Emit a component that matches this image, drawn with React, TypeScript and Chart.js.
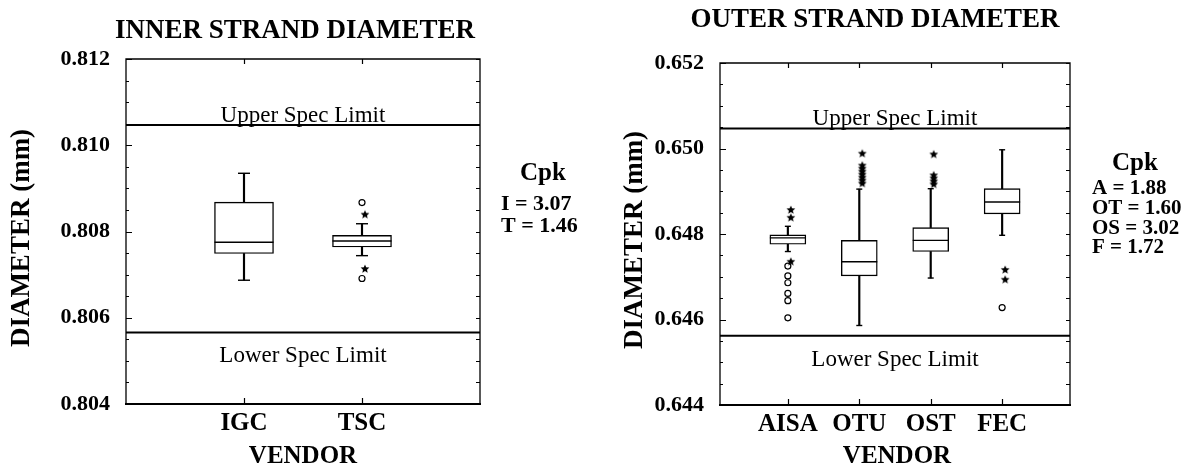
import React, { useEffect, useRef } from 'react';
import { Chart, registerables } from 'chart.js';

Chart.register(...registerables);

const SERIF = "'Liberation Serif', 'Times New Roman', Times, serif";

// ---------- INNER STRAND DIAMETER ----------
const INNER_VENDORS = ['IGC', 'TSC'];
const INNER_LOW = [0.80687, 0.80744];
const INNER_Q1 = [0.80749, 0.80764];
const INNER_MEDIAN = [0.80775, 0.80778];
const INNER_Q3 = [0.80868, 0.80791];
const INNER_HIGH = [0.80935, 0.80818];
const INNER_STARS = [[], [0.80839, 0.80713]];
const INNER_CIRCLES = [[], [0.80867, 0.80691]];
const INNER_USL = 0.81047;
const INNER_LSL = 0.80566;
const INNER_Y_MIN = 0.804;
const INNER_Y_MAX = 0.812;
const INNER_CPK = ['I = 3.07', 'T = 1.46'];

// ---------- OUTER STRAND DIAMETER ----------
const OUTER_VENDORS = ['AISA', 'OTU', 'OST', 'FEC'];
const OUTER_LOW = [0.64759, 0.64586, 0.64697, 0.64797];
const OUTER_Q1 = [0.64776, 0.64702, 0.64759, 0.64847];
const OUTER_MEDIAN = [0.64791, 0.64735, 0.64785, 0.64875];
const OUTER_Q3 = [0.64798, 0.64785, 0.64815, 0.64906];
const OUTER_HIGH = [0.64818, 0.64905, 0.64906, 0.64997];
const OUTER_STARS = [
  [0.64856, 0.64838, 0.64735],
  [0.64988, 0.6496, 0.64953, 0.64946, 0.64939, 0.64932, 0.64925, 0.64918],
  [0.64986, 0.64937, 0.6493, 0.64923, 0.64916],
  [0.64716, 0.64693],
];
const OUTER_CIRCLES = [
  [0.64725, 0.64702, 0.64686, 0.64661, 0.64644, 0.64604],
  [],
  [],
  [0.64628],
];
const OUTER_USL = 0.65047;
const OUTER_LSL = 0.64562;
const OUTER_Y_MIN = 0.644;
const OUTER_Y_MAX = 0.652;
const OUTER_CPK = ['A = 1.88', 'OT = 1.60', 'OS = 3.02', 'F = 1.72'];

const Y_MAJOR_STEP = 0.002;
const Y_MINOR_STEP = 0.0005;

function makeStar(r: number, dx: number): HTMLCanvasElement {
  const c = document.createElement('canvas');
  const size = Math.ceil(2 * (r + Math.abs(dx)) + 2);
  c.width = size;
  c.height = size;
  const g = c.getContext('2d')!;
  const cx = size / 2 + dx;
  const cy = size / 2;
  g.beginPath();
  for (let k = 0; k < 10; k++) {
    const rad = k % 2 === 0 ? r : r * 0.45;
    const a = -Math.PI / 2 + (k * Math.PI) / 5;
    g.lineTo(cx + rad * Math.cos(a), cy + rad * Math.sin(a));
  }
  g.closePath();
  g.fillStyle = '#000';
  g.fill();
  return c;
}

type PanelCfg = {
  left: number;
  width: number;
  title: string;
  titleX: number;
  titleY: number;
  yTitleX: number;
  yTitleY: number;
  vendorX: number;
  vendorY: number;
  cpkX: number;
  cpkTitleX: number;
  cpkTitleY: number;
  cpkLineY: number[];
  cpkFont: number;
  cpkLines: string[];
  vendors: string[];
  low: number[];
  q1: number[];
  median: number[];
  q3: number[];
  high: number[];
  stars: number[][];
  circles: number[][];
  usl: number;
  lsl: number;
  yMin: number;
  yMax: number;
  xMin: number;
  xMax: number;
  yAxisWidth: number;
  xAxisHeight: number;
  padTop: number;
  padRight: number;
  boxWidth: number;
  capR: number;
};

function buildConfig(cfg: PanelCfg): any {
  const xs = cfg.vendors.map((_, i) => i + 1);
  const star = makeStar(4.6, 3);
  const whiskers = xs.flatMap((x, i) => [
    { x, y: [cfg.q3[i], cfg.high[i]] },
    { x, y: [cfg.low[i], cfg.q1[i]] },
  ]);
  const boxes = xs.map((x, i) => ({ x, y: [cfg.q1[i], cfg.q3[i]] }));
  const medians = xs.map((x, i) => ({ x, y: cfg.median[i] }));
  const caps = xs.flatMap((x, i) => [
    { x, y: cfg.high[i] },
    { x, y: cfg.low[i] },
  ]);
  const starPts = xs.flatMap((x, i) => cfg.stars[i].map((y) => ({ x, y })));
  const circlePts = xs.flatMap((x, i) => cfg.circles[i].map((y) => ({ x, y })));

  const decor = {
    id: 'decor',
    afterDatasetsDraw(chart: any) {
      const { ctx, chartArea: a, scales } = chart;
      const ys = scales.y;
      const xsc = scales.x;
      ctx.save();
      ctx.strokeStyle = '#000';
      ctx.fillStyle = '#000';
      // frame
      ctx.lineWidth = 1.3;
      ctx.beginPath();
      ctx.moveTo(a.left, a.bottom);
      ctx.lineTo(a.left, a.top);
      ctx.lineTo(a.right, a.top);
      ctx.lineTo(a.right, a.bottom);
      ctx.stroke();
      ctx.lineWidth = 2;
      ctx.beginPath();
      ctx.moveTo(a.left - 1, a.bottom);
      ctx.lineTo(a.right + 1, a.bottom);
      ctx.stroke();
      // y ticks (inward, both sides)
      ctx.lineWidth = 1.2;
      const nMinor = Math.round((cfg.yMax - cfg.yMin) / Y_MINOR_STEP);
      const perMajor = Math.round(Y_MAJOR_STEP / Y_MINOR_STEP);
      for (let k = 0; k <= nMinor; k++) {
        const v = cfg.yMin + k * Y_MINOR_STEP;
        const py = Math.round(ys.getPixelForValue(v)) + 0.5;
        const len = k % perMajor === 0 ? 6 : 3;
        ctx.beginPath();
        ctx.moveTo(a.left, py);
        ctx.lineTo(a.left + len, py);
        ctx.moveTo(a.right, py);
        ctx.lineTo(a.right - 4, py);
        ctx.stroke();
      }
      // x ticks at categories
      xs.forEach((x) => {
        const px = Math.round(xsc.getPixelForValue(x)) + 0.5;
        ctx.beginPath();
        ctx.moveTo(px, a.top);
        ctx.lineTo(px, a.top + 5);
        ctx.moveTo(px, a.bottom);
        ctx.lineTo(px, a.bottom - 6);
        ctx.stroke();
      });
      // spec limit labels
      const cx = (a.left + a.right) / 2;
      ctx.font = `23px ${SERIF}`;
      ctx.textAlign = 'center';
      ctx.textBaseline = 'alphabetic';
      ctx.fillText('Upper Spec Limit', cx, ys.getPixelForValue(cfg.usl) - 3);
      ctx.fillText('Lower Spec Limit', cx, ys.getPixelForValue(cfg.lsl) + 30);
      // title
      ctx.font = `bold 27px ${SERIF}`;
      ctx.fillText(cfg.title, cfg.titleX, cfg.titleY);
      // x title
      ctx.font = `bold 25px ${SERIF}`;
      ctx.fillText('VENDOR', cfg.vendorX, cfg.vendorY);
      // y title
      ctx.save();
      ctx.translate(cfg.yTitleX, cfg.yTitleY);
      ctx.rotate(-Math.PI / 2);
      ctx.font = `bold 27px ${SERIF}`;
      ctx.textBaseline = 'middle';
      ctx.fillText('DIAMETER (mm)', 0, 0);
      ctx.restore();
      // Cpk block
      ctx.font = `bold 25px ${SERIF}`;
      ctx.textAlign = 'center';
      ctx.textBaseline = 'alphabetic';
      ctx.fillText('Cpk', cfg.cpkTitleX, cfg.cpkTitleY);
      ctx.font = `bold ${cfg.cpkFont}px ${SERIF}`;
      ctx.textAlign = 'left';
      cfg.cpkLines.forEach((t, i) => ctx.fillText(t, cfg.cpkX, cfg.cpkLineY[i]));
      ctx.restore();
    },
  };

  return {
    type: 'bar',
    data: {
      datasets: [
        {
          type: 'line',
          data: [
            { x: cfg.xMin, y: cfg.usl },
            { x: cfg.xMax, y: cfg.usl },
          ],
          borderColor: '#000',
          borderWidth: 2,
          pointRadius: 0,
          order: 6,
        },
        {
          type: 'line',
          data: [
            { x: cfg.xMin, y: cfg.lsl },
            { x: cfg.xMax, y: cfg.lsl },
          ],
          borderColor: '#000',
          borderWidth: 2,
          pointRadius: 0,
          order: 6,
        },
        {
          type: 'bar',
          data: whiskers,
          backgroundColor: '#000',
          borderWidth: 0,
          barThickness: 1.5,
          grouped: false,
          order: 5,
        },
        {
          type: 'bar',
          data: boxes,
          backgroundColor: '#fff',
          borderColor: '#000',
          borderWidth: 1.4,
          borderSkipped: false,
          barThickness: cfg.boxWidth,
          grouped: false,
          order: 4,
        },
        {
          type: 'scatter',
          data: medians,
          pointStyle: 'line',
          pointRadius: cfg.boxWidth / 2,
          borderColor: '#000',
          borderWidth: 1.4,
          order: 3,
        },
        {
          type: 'scatter',
          data: caps,
          pointStyle: 'line',
          pointRadius: cfg.capR,
          borderColor: '#000',
          borderWidth: 1.4,
          order: 3,
        },
        {
          type: 'scatter',
          data: circlePts,
          pointStyle: 'circle',
          pointRadius: 3,
          backgroundColor: '#fff',
          borderColor: '#000',
          borderWidth: 1.2,
          order: 2,
        },
        {
          type: 'scatter',
          data: starPts,
          pointStyle: star,
          pointRadius: 4,
          order: 1,
        },
      ],
    },
    options: {
      animation: false,
      responsive: false,
      events: [],
      layout: { padding: { top: cfg.padTop, right: cfg.padRight, left: 0, bottom: 0 } },
      plugins: { legend: { display: false }, tooltip: { enabled: false }, title: { display: false } },
      scales: {
        x: {
          type: 'linear',
          offset: false,
          min: cfg.xMin,
          max: cfg.xMax,
          grid: { display: false, drawTicks: false },
          border: { display: false },
          afterBuildTicks: (s: any) => {
            s.ticks = xs.map((v) => ({ value: v }));
          },
          afterFit: (s: any) => {
            s.height = cfg.xAxisHeight;
          },
          ticks: {
            autoSkip: false,
            maxRotation: 0,
            padding: 5,
            color: '#000',
            font: { family: SERIF, size: 25, weight: 'bold' },
            callback: (v: any) => cfg.vendors[Math.round(Number(v)) - 1] ?? '',
          },
        },
        y: {
          type: 'linear',
          min: cfg.yMin,
          max: cfg.yMax,
          beginAtZero: false,
          grid: { display: false, drawTicks: false },
          border: { display: false },
          afterFit: (s: any) => {
            s.width = cfg.yAxisWidth;
          },
          ticks: {
            stepSize: Y_MAJOR_STEP,
            padding: 16,
            color: '#000',
            font: { family: SERIF, size: 22, weight: 'bold' },
            callback: (v: any) => Number(v).toFixed(3),
          },
        },
      },
    },
    plugins: [decor],
  };
}

const INNER_CFG: PanelCfg = {
  left: 0,
  width: 597,
  title: 'INNER STRAND DIAMETER',
  titleX: 295,
  titleY: 38,
  yTitleX: 22,
  yTitleY: 238,
  vendorX: 303,
  vendorY: 463,
  cpkX: 501,
  cpkTitleX: 543,
  cpkTitleY: 180,
  cpkLineY: [210, 232],
  cpkFont: 22,
  cpkLines: INNER_CPK,
  vendors: INNER_VENDORS,
  low: INNER_LOW,
  q1: INNER_Q1,
  median: INNER_MEDIAN,
  q3: INNER_Q3,
  high: INNER_HIGH,
  stars: INNER_STARS,
  circles: INNER_CIRCLES,
  usl: INNER_USL,
  lsl: INNER_LSL,
  yMin: INNER_Y_MIN,
  yMax: INNER_Y_MAX,
  xMin: 0,
  xMax: 3,
  yAxisWidth: 126,
  xAxisHeight: 62,
  padTop: 59,
  padRight: 117,
  boxWidth: 59,
  capR: 6,
};

const OUTER_CFG: PanelCfg = {
  left: 597,
  width: 598,
  title: 'OUTER STRAND DIAMETER',
  titleX: 278,
  titleY: 27,
  yTitleX: 38,
  yTitleY: 240,
  vendorX: 300,
  vendorY: 463,
  cpkX: 495,
  cpkTitleX: 538,
  cpkTitleY: 170,
  cpkLineY: [194, 214, 234, 253],
  cpkFont: 21,
  cpkLines: OUTER_CPK,
  vendors: OUTER_VENDORS,
  low: OUTER_LOW,
  q1: OUTER_Q1,
  median: OUTER_MEDIAN,
  q3: OUTER_Q3,
  high: OUTER_HIGH,
  stars: OUTER_STARS,
  circles: OUTER_CIRCLES,
  usl: OUTER_USL,
  lsl: OUTER_LSL,
  yMin: OUTER_Y_MIN,
  yMax: OUTER_Y_MAX,
  xMin: 0.05,
  xMax: 4.95,
  yAxisWidth: 123,
  xAxisHeight: 61,
  padTop: 63,
  padRight: 125,
  boxWidth: 36,
  capR: 3,
};

function Panel({ cfg }: { cfg: PanelCfg }) {
  const ref = useRef<HTMLCanvasElement>(null);
  useEffect(() => {
    if (!ref.current) return;
    const chart = new Chart(ref.current, buildConfig(cfg));
    return () => chart.destroy();
  }, [cfg]);
  return (
    <canvas
      ref={ref}
      width={cfg.width}
      height={466}
      style={{ position: 'absolute', left: cfg.left, top: 0, width: cfg.width, height: 466 }}
    />
  );
}

export default function App() {
  return (
    <div style={{ position: 'absolute', left: 0, top: 0, width: 1195, height: 466, background: '#fff', overflow: 'hidden' }}>
      <Panel cfg={INNER_CFG} />
      <Panel cfg={OUTER_CFG} />
    </div>
  );
}
